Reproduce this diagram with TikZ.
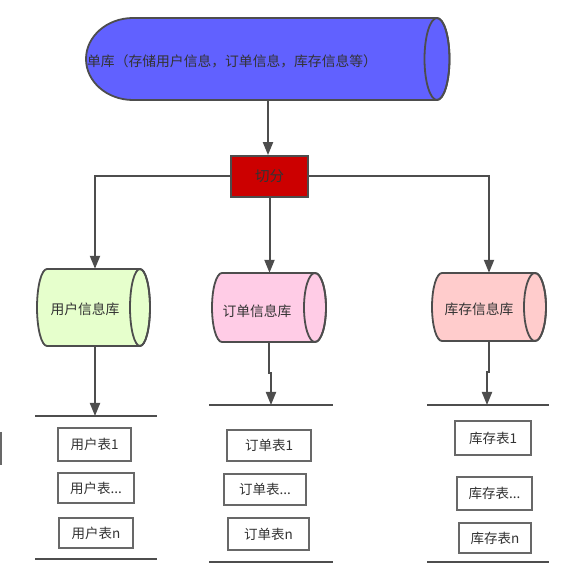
\documentclass[tikz,border=0pt]{standalone}
\usepackage{fontspec}
\setmainfont{Noto Sans CJK SC}
\usetikzlibrary{arrows.meta}
\definecolor{topfill}{HTML}{6161FF}
\definecolor{splitfill}{HTML}{CC0000}
\definecolor{greenfill}{HTML}{E6FFCC}
\definecolor{pinkfill}{HTML}{FFCCE6}
\definecolor{salmonfill}{HTML}{FFCCCC}
\definecolor{stroke}{HTML}{4D4D4D}
\definecolor{txt}{HTML}{333333}
\tikzset{
  cylline/.style={draw=stroke, line width=1.8pt},
  anchorbox/.style={inner sep=0pt, draw=none},
  label13/.style={text=txt, font=\fontsize{13.8}{16}\selectfont, inner sep=0pt},
  tablebox/.style={draw=stroke!85, line width=2pt, fill=white, text=txt, font=\fontsize{13.5}{16}\selectfont, inner sep=0pt},
  barline/.style={draw=stroke, line width=2.2pt},
  arr/.style={draw=stroke, line width=2pt, -{Triangle[length=13pt,width=10pt]}},
}
\begin{document}
\begin{tikzpicture}[x=1pt,y=1pt]
\useasboundingbox (0,0) rectangle (561,574);
% top cylinder
\path[fill=topfill, cylline] (437,556) -- (133,556) arc[start angle=90,end angle=270,x radius=47,y radius=41] -- (437,474) arc[start angle=-90,end angle=90,x radius=12.5,y radius=41] -- cycle;
\draw[cylline] (437,515) ellipse[x radius=12.5,y radius=41];
\node[anchorbox, minimum width=364pt, minimum height=82pt] (db) at (268,515) {};
\node[label13, anchor=west] (dbt) at (87,513) {单库（存储用户信息，订单信息，库存信息等）};
% split box
\node[draw=stroke, line width=1.8pt, fill=splitfill, minimum width=77pt, minimum height=41pt, inner sep=0pt, text=txt, font=\fontsize{14.5}{16}\selectfont] (split) at (269.5,397.5) {切分};
% small cylinders
\path[fill=greenfill, cylline] (140,305) -- (47,305) arc[start angle=90,end angle=270,x radius=10,y radius=38.5] -- (140,228) arc[start angle=-90,end angle=90,x radius=10,y radius=38.5] -- cycle;
\draw[cylline] (140,266.5) ellipse[x radius=10,y radius=38.5];
\node[anchorbox, minimum width=113pt, minimum height=77pt] (c1) at (95,266.5) {};
\node[label13] (c1t) at (85,265) {用户信息库};

\path[fill=pinkfill, cylline] (315,301) -- (222,301) arc[start angle=90,end angle=270,x radius=10,y radius=34.5] -- (315,232) arc[start angle=-90,end angle=90,x radius=11,y radius=34.5] -- cycle;
\draw[cylline] (315,266.5) ellipse[x radius=11,y radius=34.5];
\node[anchorbox, minimum width=114pt, minimum height=69pt] (c2) at (269,266.5) {};
\node[label13] (c2t) at (257,263) {订单信息库};

\path[fill=salmonfill, cylline] (535,301) -- (442,301) arc[start angle=90,end angle=270,x radius=10,y radius=34] -- (535,233) arc[start angle=-90,end angle=90,x radius=11,y radius=34] -- cycle;
\draw[cylline] (535,267) ellipse[x radius=11,y radius=34];
\node[anchorbox, minimum width=114pt, minimum height=68pt] (c3) at (489,267) {};
\node[label13] (c3t) at (479,265) {库存信息库};

% connectors from top
\draw[arr] (db.south) -- (db.south |- split.north);
\draw[arr] (split.west) -| (c1.north);
\draw[arr] (split.south) -- (split.south |- c2.north);
\draw[arr] (split.east) -| (c3.north);

% bars
\coordinate (b1) at (95,158);
\coordinate (b2) at (271,169);
\coordinate (b3) at (487,169);
\draw[barline] (35,158) -- (157,158);
\draw[barline] (35,15) -- (157,15);
\draw[barline] (209,169) -- (333,169);
\draw[barline] (209,12) -- (333,12);
\draw[barline] (427,169) -- (549,169);
\draw[barline] (427,12) -- (549,12);

% arrows to bars
\draw[arr] (c1.south) -- (b1);
\draw[arr] (c2.south) -- (269,201) -- (271,201) -- (b2);
\draw[arr] (c3.south) -- (489,202) -- (487,202) -- (b3);

% tables
\node[tablebox, minimum width=73pt, minimum height=33pt] (u1) at (94.5,129.5) {用户表1};
\node[tablebox, minimum width=76pt, minimum height=30pt] (u2) at (96,86) {用户表...};
\node[tablebox, minimum width=74pt, minimum height=30pt] (u3) at (96,41) {用户表n};
\node[tablebox, minimum width=84pt, minimum height=31pt] (o1) at (269,128.5) {订单表1};
\node[tablebox, minimum width=82pt, minimum height=31pt] (o2) at (265,84.5) {订单表...};
\node[tablebox, minimum width=81pt, minimum height=32pt] (o3) at (268.5,40) {订单表n};
\node[tablebox, minimum width=76pt, minimum height=34pt] (s1) at (493,136) {库存表1};
\node[tablebox, minimum width=75pt, minimum height=33pt] (s2) at (494.5,80.5) {库存表...};
\node[tablebox, minimum width=72pt, minimum height=30pt] (s3) at (495,36) {库存表n};

% stray cut-off box edge at the left
\draw[draw=stroke!85, line width=2pt] (1,142) -- (1,109);
\end{tikzpicture}
\end{document}
